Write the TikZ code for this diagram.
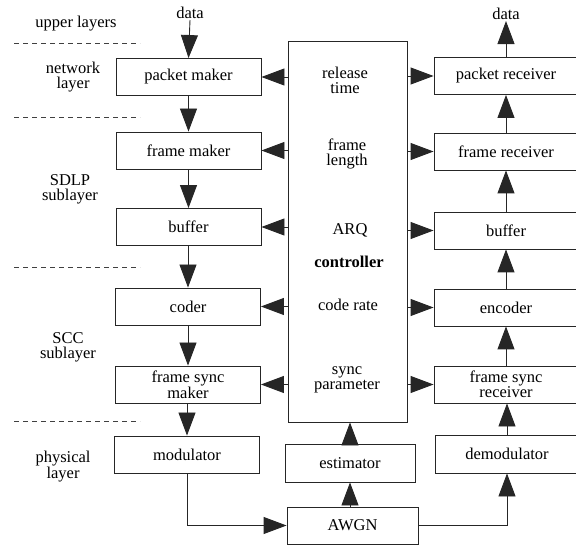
\documentclass[tikz,border=0pt]{standalone}
\usepackage{fontspec}
\setmainfont{Liberation Serif}
\newfontfamily\timesfam{Liberation Serif}
\usetikzlibrary{arrows.meta}
\newcommand\figfont{\timesfam\fontsize{16.5}{15}\selectfont}
\begin{document}
\begin{tikzpicture}[x=1pt,y=-1pt,
  box/.style={draw=black!85, line width=0.9pt, rectangle, minimum width=145pt,
    minimum height=37pt, inner sep=0pt, align=center, font=\figfont},
  rbox/.style={box, minimum width=144pt},
  lbl/.style={align=center, font=\figfont, inner sep=1pt},
  arr/.style={draw=black!85, line width=0.9pt, -{Triangle[length=23pt,width=17pt]}},
  dashline/.style={draw=black!75, line width=0.8pt, dash pattern=on 5pt off 4pt}]
\useasboundingbox (0,0) rectangle (576,545);
\clip (0,0) rectangle (576,545);

% left labels and separators
\node[lbl] (ul) at (76,24) {upper layers};
\node[lbl] (nl) at (73,77) {network\\layer};
\node[lbl] (sdlp) at (70,189) {SDLP\\sublayer};
\node[lbl] (scc) at (68,347) {SCC\\sublayer};
\node[lbl] (phy) at (63,467) {physical\\layer};
\draw[dashline] (14,43) -- (140,43);
\draw[dashline] (14,117) -- (140,117);
\draw[dashline] (14,267) -- (140,267);
\draw[dashline] (14,421) -- (140,421);

% left column
\node[box] (pm) at (188.5,77) {packet maker};
\node[box] (fm) at (188.5,150.5) {frame maker};
\node[box] (bl) at (188.5,227) {buffer};
\node[box] (cd) at (188,306.5) {coder};
\node[box] (fsm) at (188,384.5) {frame sync\\maker};
\node[box] (mod) at (187,454.5) {modulator};

% controller and channel
\node[box, minimum width=119pt, minimum height=381pt] (ctrl) at (347.5,231.5) {};
\node[lbl] (t1) at (345,80) {release\\time};
\node[lbl] (t2) at (347,154) {frame\\length};
\node[lbl] (t3) at (350,230) {ARQ};
\node[lbl, font=\figfont\bfseries] (t4) at (349,262) {controller};
\node[lbl] (t5) at (348,305) {code rate};
\node[lbl] (t6) at (347,380) {sync\\parameter};
\node[box, minimum width=130pt, minimum height=38pt] (est) at (350,463) {estimator};
\node[box, minimum width=131pt, minimum height=37pt] (awgn) at (352.5,525.5) {AWGN};

% right column
\node[rbox] (pr) at (506,76) {packet receiver};
\node[rbox] (fr) at (506,151.5) {frame receiver};
\node[rbox] (br) at (506,230.5) {buffer};
\node[rbox] (enc) at (506,307.5) {encoder};
\node[rbox] (fsr) at (506,384.5) {frame sync\\receiver};
\node[rbox, minimum height=38pt] (dem) at (507,454) {demodulator};

% data
\node[lbl] (dl) at (190,13) {data};
\node[lbl] (dr) at (506,14) {data};
\draw[arr] (dl.south) -- (pm.north);
\draw[arr] (pr.north) -- (dr.south);

% left chain
\draw[arr] (pm.south -| fm.north) -- (fm.north);
\draw[arr] (fm.south -| bl.north) -- (bl.north);
\draw[arr] (bl.south -| cd.north) -- (cd.north);
\draw[arr] (cd.south -| fsm.north) -- (fsm.north);
\draw[arr] (fsm.south -| mod.north) -- (mod.north);

% right chain
\draw[arr] (fr.north) -- (fr.north |- pr.south);
\draw[arr] (br.north) -- (br.north |- fr.south);
\draw[arr] (enc.north) -- (enc.north |- br.south);
\draw[arr] (fsr.north) -- (fsr.north |- enc.south);
\draw[arr] (dem.north) -- (dem.north |- fsr.south);

% controller outputs
\foreach \b in {pm,fm,bl,cd,fsm}{\draw[arr] (ctrl.west |- \b.east) -- (\b.east);}
\foreach \b in {pr,fr,br,enc,fsr}{\draw[arr] (ctrl.east |- \b.west) -- (\b.west);}

% channel
\draw[arr] (mod.south) |- (awgn.west);
\draw[arr] (awgn.east) -| (dem.south);
\draw[arr] (awgn.north -| est.south) -- (est.south);
\draw[arr] (est.north) -- (est.north |- ctrl.south);
\end{tikzpicture}
\end{document}
